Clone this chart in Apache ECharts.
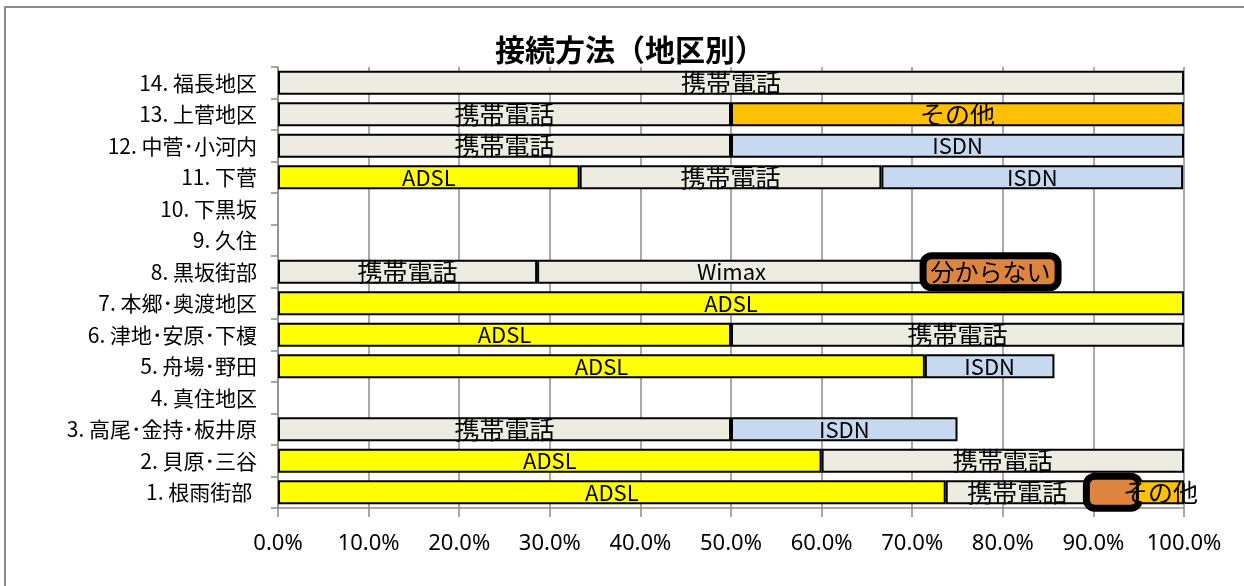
<!DOCTYPE html>
<html>
<head>
<meta charset="utf-8">
<script src="https://cdn.jsdelivr.net/npm/echarts@6/dist/echarts.min.js"></script>
<style>html,body{margin:0;padding:0;background:#fff;}#c{width:1244px;height:586px;}</style>
</head>
<body>
<div id="c"></div>
<script>
const categories = ['1. 根雨街部 ','2. 貝原･三谷','3. 高尾･金持･板井原','4. 真住地区','5. 舟場･野田','6. 津地･安原･下榎','7. 本郷･奥渡地区','8. 黒坂街部','9. 久住','10. 下黒坂','11. 下菅','12. 中菅･小河内','13. 上菅地区','14. 福長地区'];
const xTicks = [0,10,20,30,40,50,60,70,80,90,100];
const adsl      = [73.7, 60,   null, null, 71.4, 50,   100,  null, null, null, 33.3, null, null, null];
const keitai    = [15.8, 40,   50,   null, null, 50,   null, 28.6, null, null, 33.3, 50,   50,   100];
const wimax     = [null, null, null, null, null, null, null, 42.9, null, null, null, null, null, null];
const isdn      = [null, null, 25,   null, 14.3, null, null, null, null, null, 33.3, 50,   null, null];
const wakaranai = [5.3,  null, null, null, null, null, null, 14.3, null, null, null, null, null, null];
const sonota    = [5.2,  null, null, null, null, null, null, null, null, null, null, null, 50,   null];

const FONT = '"Noto Sans CJK JP", "Noto Sans", sans-serif';
function mk(name, data, color, fs, extra) {
  const s = {
    name: name, type: 'bar', stack: 'total', data: data,
    barWidth: 24,
    itemStyle: { color: color, borderColor: '#000', borderWidth: 2 },
    label: { show: true, position: 'inside', formatter: '{a}', color: '#000', fontSize: fs, fontFamily: FONT,
      textBorderWidth: 0, textShadowBlur: 0 },
    labelLayout: { hideOverlap: false },
    emphasis: { disabled: true }
  };
  return Object.assign(s, extra || {});
}
const boxLabel = { show: true, fontSize: 24, backgroundColor: '#DD853F', borderColor: '#000', borderWidth: 7,
  borderRadius: 5, padding: [0, 4], lineHeight: 25, height: 25 };
const smallBox = Object.assign({}, boxLabel, { formatter: ' ', width: 46, padding: 0 });
const chart = echarts.init(document.getElementById('c'));
chart.setOption({
  animation: false,
  title: { text: '接続方法（地区別）', left: 625, textAlign: 'center', top: 30,
    textStyle: { fontSize: 30, fontWeight: 'bold', fontFamily: FONT, color: '#000' } },
  graphic: [{ type: 'rect', shape: { x: 5, y: 7, width: 1260, height: 620 },
    style: { fill: 'none', stroke: '#8c8c8c', lineWidth: 2 }, silent: true }],
  grid: { left: 278, right: 60, top: 67, bottom: 78 },
  xAxis: {
    type: 'value', min: 0, max: 100, interval: 10,
    axisLine: { show: true, lineStyle: { color: '#8c8c8c', width: 1.5 } },
    axisTick: { show: true, length: 9, lineStyle: { color: '#8c8c8c', width: 1.5 } },
    splitLine: { show: true, lineStyle: { color: '#8c8c8c', width: 1.5 } },
    axisLabel: { formatter: v => v.toFixed(1) + '%', fontSize: 22, color: '#000', margin: 25, fontFamily: '"Noto Sans", sans-serif' }
  },
  yAxis: {
    type: 'category', data: categories,
    axisLine: { show: true, lineStyle: { color: '#8c8c8c', width: 1.5 } },
    axisTick: { show: true, length: 7, interval: 0, lineStyle: { color: '#8c8c8c', width: 1.5 } },
    axisLabel: { fontSize: 21, color: '#000', margin: 21, fontFamily: FONT, interval: 0 }
  },
  series: [
    mk('ADSL', adsl, '#FFFF00', 22),
    mk('携帯電話', keitai, '#EEECE1', 25),
    mk('Wimax', wimax, '#EEECE1', 22),
    mk('ISDN', isdn, '#C6D9F1', 22),
    mk('分からない', wakaranai.map(v => v == null ? null : { value: v, label: v > 10 ? boxLabel : smallBox }), '#DD853F', 24,
      { z: 3, itemStyle: { color: '#DD853F', borderColor: '#000', borderWidth: 7, borderRadius: 3 } }),
    mk('その他', sonota, '#FFC000', 25, { z: 4 })
  ]
});
</script>
</body>
</html>
